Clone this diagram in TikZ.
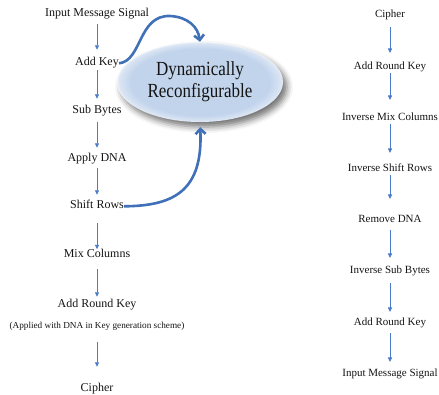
\documentclass[tikz,border=0pt]{standalone}
\usepackage{fontspec}
\setmainfont{Liberation Serif}
\usetikzlibrary{arrows.meta,shapes.geometric,shadows.blur}
\definecolor{flowblue}{HTML}{4A7BC8}
\definecolor{loopblue}{HTML}{3F70B8}
\definecolor{ellblue}{HTML}{C2D4EC}
\definecolor{ellpale}{HTML}{DCE6F4}
\definecolor{txt}{HTML}{141414}
% soft-edged fill for the central ellipse
\pgfdeclareradialshading{softglow}{\pgfpoint{0bp}{0bp}}{color(0bp)=(ellblue); color(21bp)=(ellblue); color(24.5bp)=(ellpale); color(25.5bp)=(white); color(50bp)=(white)}
\begin{document}
\begin{tikzpicture}[x=1pt,y=1pt,
  lstep/.style={font=\fontsize{12}{14}\selectfont, text=txt, inner sep=0pt, text height=8pt, text depth=2.6pt, anchor=base},
  rstep/.style={font=\fontsize{11}{13}\selectfont, text=txt, inner sep=0pt, text height=7.3pt, text depth=2.4pt, anchor=base},
  notetext/.style={font=\fontsize{9.2}{11}\selectfont, text=txt, inner sep=0pt, text height=6.2pt, text depth=2pt, anchor=base},
  flow/.style={draw=flowblue, line width=0.8pt, -{Triangle[length=4.5pt,width=4pt]}, shorten <=4pt, shorten >=6pt},
  loop/.style={draw=loopblue, line width=2.6pt, -{Straight Barb[length=5pt,width=10pt]}},
  hub/.style={ellipse, minimum width=166pt, minimum height=80pt, inner sep=0pt, shading=softglow,
    blur shadow={shadow xshift=4pt, shadow yshift=-5pt, shadow blur radius=6pt, shadow opacity=55},
    font=\fontsize{20}{22}\selectfont, text=txt, align=center}
]
\useasboundingbox (0,0) rectangle (439,395);

% encryption chain
\node[lstep] (in1) at (97,378) {Input Message Signal};
\node[lstep] (ak)  at (97,329) {Add Key};
\node[lstep] (sb)  at (97,281) {Sub Bytes};
\node[lstep] (ad)  at (97,233) {Apply DNA};
\node[lstep] (sr)  at (97,186) {Shift Rows};
\node[lstep] (mc)  at (97,137) {Mix Columns};
\node[lstep] (ark) at (97,87)  {Add Round Key};
\node[notetext] (note) at (97,66) {(Applied with DNA in Key generation scheme)};
\node[lstep] (ciph) at (97,3) {Cipher};

\draw[flow, shorten >=8pt] (in1) -- (ak);
\draw[flow, shorten <=1.5pt, shorten >=7pt] (ak) -- (sb);
\draw[flow, shorten <=5pt] (sb) -- (ad);
\draw[flow, shorten <=3.5pt] (ad) -- (sr);
\draw[flow, shorten <=11pt, shorten >=0.5pt] (sr) -- (mc);
\draw[flow, shorten <=8pt, shorten >=3pt] (mc) -- (ark);
\draw[flow, shorten <=11pt, shorten >=17pt] (note) -- (ciph);

% decryption chain
\node[rstep] (c2)   at (390,377.5) {Cipher};
\node[rstep] (a1)   at (390,325.5) {Add Round Key};
\node[rstep] (imc)  at (390,274.5) {Inverse Mix Columns};
\node[rstep] (isr)  at (390,223.5) {Inverse Shift Rows};
\node[rstep] (rd)   at (390,172.5) {Remove DNA};
\node[rstep] (isb)  at (390,121.5) {Inverse Sub Bytes};
\node[rstep] (a2)   at (390,69.5)  {Add Round Key};
\node[rstep] (ims)  at (390,18.5)  {Input Message Signal};

\draw[flow, shorten <=7pt, shorten >=9pt] (c2) -- (a1);
\draw[flow, shorten <=0.5pt, shorten >=13pt] (a1) -- (imc);
\draw[flow, shorten <=0.5pt, shorten >=11pt] (imc) -- (isr);
\draw[flow, shorten <=0.5pt, shorten >=16pt] (isr) -- (rd);
\draw[flow, shorten <=5pt, shorten >=8pt] (rd) -- (isb);
\draw[flow, shorten <=7pt, shorten >=6pt] (isb) -- (a2);
\draw[flow, shorten <=5pt, shorten >=7pt] (a2) -- (ims);

% reconfigurable core
\node[hub] (dr) at (200,313) {\scalebox{0.85}[1]{Dynamically}\\\scalebox{0.85}[1]{Reconfigurable}};

\coordinate (top) at (170,379);
\draw[loop] (ak.east) .. controls (142,334) and (138,380) .. (top)
  .. controls (188,378) and (198,368) .. (dr.north);
\draw[loop, shorten >=5pt] (sr.east) .. controls (175,189) and (203,205) .. (dr.south);
\end{tikzpicture}
\end{document}
